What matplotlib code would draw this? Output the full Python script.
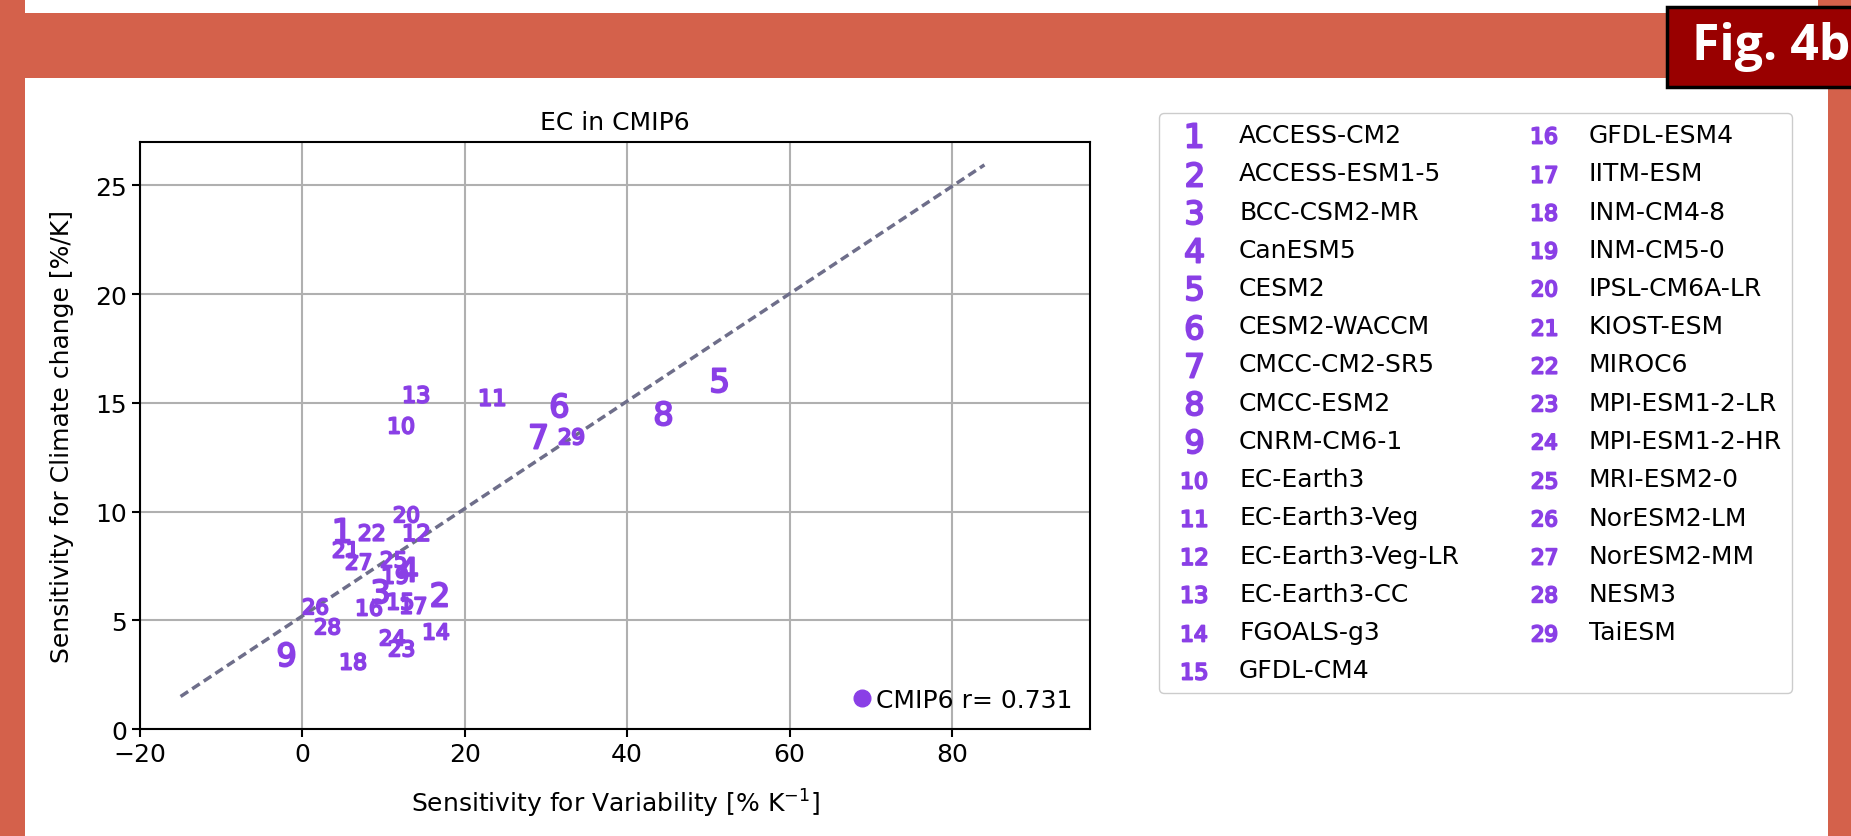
import matplotlib
matplotlib.use("Agg")
import matplotlib.pyplot as plt
from matplotlib.lines import Line2D
from matplotlib.patches import Rectangle
import numpy as np

# ---------------- data ----------------
models = ["ACCESS-CM2", "ACCESS-ESM1-5", "BCC-CSM2-MR", "CanESM5", "CESM2",
          "CESM2-WACCM", "CMCC-CM2-SR5", "CMCC-ESM2", "CNRM-CM6-1", "EC-Earth3",
          "EC-Earth3-Veg", "EC-Earth3-Veg-LR", "EC-Earth3-CC", "FGOALS-g3", "GFDL-CM4",
          "GFDL-ESM4", "IITM-ESM", "INM-CM4-8", "INM-CM5-0", "IPSL-CM6A-LR",
          "KIOST-ESM", "MIROC6", "MPI-ESM1-2-LR", "MPI-ESM1-2-HR", "MRI-ESM2-0",
          "NorESM2-LM", "NorESM2-MM", "NESM3", "TaiESM"]
sens_var = [4.9, 16.8, 9.5, 13.0, 51.3, 31.6, 29.0, 44.4, -2.0, 12.1,
            23.4, 14.0, 14.0, 16.4, 12.0, 8.2, 13.6, 6.2, 11.4, 12.7,
            5.3, 8.4, 12.1, 11.0, 11.2, 1.5, 6.8, 3.0, 33.1]
sens_cc = [9.14, 6.22, 6.35, 7.35, 16.06, 14.9, 13.5, 14.52, 3.46, 13.96,
           15.25, 9.07, 15.4, 4.53, 5.89, 5.61, 5.69, 3.15, 7.07, 9.87,
           8.3, 9.04, 3.72, 4.23, 7.84, 5.66, 7.73, 4.76, 13.5]
fit_x = [-15.0, 84.0]
fit_slope = 0.247
fit_intercept = 5.2
r_value = 0.731
title = "EC in CMIP6"
xticks = [-20, 0, 20, 40, 60, 80]
yticks = [0, 5, 10, 15, 20, 25]

W, H = 1851, 837
fig = plt.figure(figsize=(W / 100, H / 100), dpi=100)
fig.patch.set_facecolor("white")

orange = "#D4614B"
purple = "#8A3FE6"

def px_rect(x0, y0, x1, y1, **kw):
    fig.add_artist(Rectangle((x0 / W, 1 - y1 / H), (x1 - x0) / W, (y1 - y0) / H,
                             transform=fig.transFigure, **kw))

# frame decoration
px_rect(0, 0, 25, H, facecolor=orange, edgecolor="none", zorder=0)
px_rect(1828, 79, W, H, facecolor=orange, edgecolor="none", zorder=0)
px_rect(1818, 0, W, 79, facecolor=orange, edgecolor="none", zorder=0)
px_rect(0, 14, W, 79, facecolor=orange, edgecolor="none", zorder=0)
px_rect(1667, 8, W + 10, 88, facecolor="#990000", edgecolor="black", linewidth=2.5, zorder=1)
fig.text(1692 / W, 1 - 47 / H, "Fig. 4b", color="white", fontsize=36, fontweight="bold",
         family=["Open Sans", "DejaVu Sans"], ha="left", va="center", zorder=2)

# axes
ax = fig.add_axes([140 / W, 1 - 730 / H, (1090 - 140) / W, (730 - 143) / H])
ax.set_xlim(-20, 97)
ax.set_ylim(0, 27)
ax.set_xticks(xticks)
ax.set_yticks(yticks)
ax.grid(True, color="#b0b0b0", linewidth=1.5)
ax.set_axisbelow(True)
for s in ax.spines.values():
    s.set_linewidth(1.5)
ax.tick_params(labelsize=18, width=1.5, length=6)

fx = np.array(fit_x)
ax.plot(fx, fit_slope * fx + fit_intercept, linestyle="--", color="#6E6E8A", linewidth=2.5,
        dashes=(2.6, 1.4), zorder=2)

handles = []
for i, (xv, yv) in enumerate(zip(sens_var, sens_cc), start=1):
    h = ax.scatter([xv], [yv], marker=f"${i}$", s=300, color=purple, linewidths=1.4, zorder=3,
                   label=models[i - 1])
    handles.append(h)

ax.set_title(title, fontsize=18, pad=9)
ax.set_xlabel("Sensitivity for Variability [% K$^{-1}$]", fontsize=18, labelpad=15)
ax.set_ylabel("Sensitivity for Climate change [%/K]", fontsize=18, labelpad=15)

# in-axes legend
proxy = Line2D([], [], linestyle="none", marker="o", markersize=12, color=purple)
ax.legend([proxy], [f"CMIP6 r= {r_value:.3f}"], loc="lower right", frameon=False,
          fontsize=18, handlelength=0.6, handletextpad=0.25, borderaxespad=0.3)

# model legend
fig.legend(handles, models, ncol=2, loc="upper left",
           bbox_to_anchor=(1159 / W, 1 - 114 / H), borderaxespad=0, fontsize=18,
           scatterpoints=1, labelspacing=0.57, columnspacing=2.4, handlelength=2.0,
           handletextpad=0.8, borderpad=0.4, framealpha=1.0, edgecolor="#cccccc", fancybox=True)

fig.savefig("out.png", dpi=100, facecolor="white")
